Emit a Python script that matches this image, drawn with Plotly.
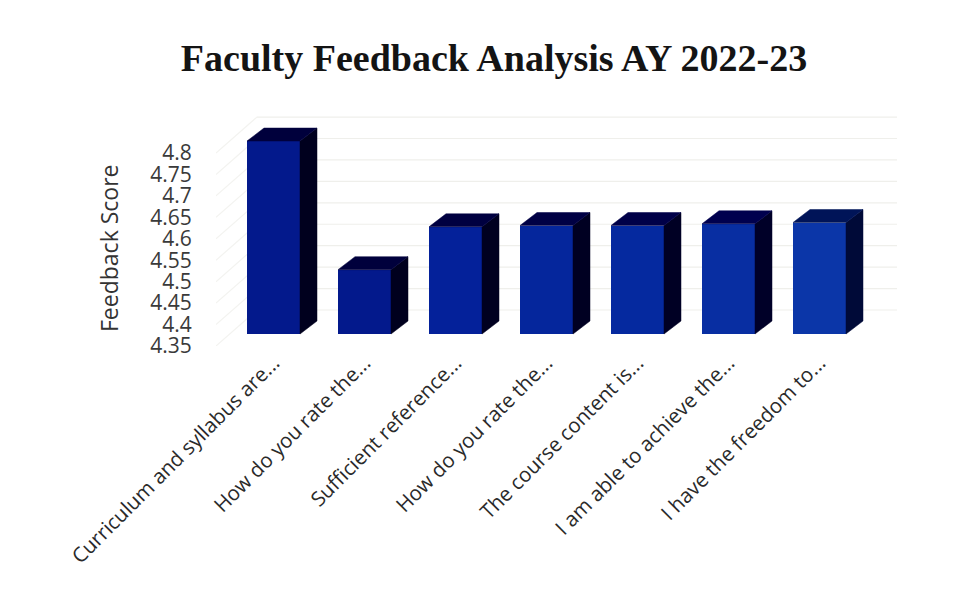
import plotly.graph_objects as go

title = "Faculty Feedback Analysis AY 2022-23"
y_title = "Feedback Score"
categories = ["Curriculum and syllabus are...", "How do you rate the...", "Sufficient reference...",
              "How do you rate the...", "The course content is...", "I am able to achieve the...",
              "I have the freedom to..."]
scores = [4.80, 4.50, 4.60, 4.603, 4.603, 4.607, 4.61]
y_ticks = [4.35, 4.4, 4.45, 4.5, 4.55, 4.6, 4.65, 4.7, 4.75, 4.8]
y_labels = ["4.35", "4.4", "4.45", "4.5", "4.55", "4.6", "4.65", "4.7", "4.75", "4.8"]
front_colors = ["#03198c", "#03198c", "#04219a", "#05269c", "#05299f", "#082ea2", "#0b36a8"]
top_colors = ["#00003c", "#00003c", "#000040", "#000044", "#000048", "#00004e", "#001458"]
side_colors = ["#00001e", "#00001e", "#000020", "#000022", "#000024", "#000028", "#000a38"]

PAGE = 8  # the browser's body margin
W, H = 960, 582
L, R, T, B = 216 - PAGE, 897 - PAGE, 100 - PAGE, 346 - PAGE
PX_PER_X = 91.0
PX_PER_Y = 21.44 / 0.05
X0 = (L - (273.5 - PAGE)) / PX_PER_X
X1 = X0 + (R - L) / PX_PER_X
Y0 = y_ticks[0]
Y1 = Y0 + (B - T) / PX_PER_Y

BAR_W = 53 / PX_PER_X
BAR_LIFT = 12 / PX_PER_Y          # bars stand a little behind the axis plane
DEPTH_X = 17 / PX_PER_X
DEPTH_Y = 13 / PX_PER_Y
WALL_X = 41 / PX_PER_X
WALL_Y = 36 / PX_PER_Y
idx = list(range(len(categories)))

fig = go.Figure()

# wall grid below the bars: diagonal side lines and back lines
for v in y_ticks:
    fig.add_shape(type="line", layer="below", x0=X0, y0=v, x1=X0 + WALL_X, y1=v + WALL_Y,
                  line=dict(color="#f3f3f0", width=1.2))
    fig.add_shape(type="line", layer="below", x0=X0 + WALL_X, y0=v + WALL_Y, x1=X1, y1=v + WALL_Y,
                  line=dict(color="#efefeb", width=1.2))

for i, v in zip(idx, scores):
    xl, xr = i - BAR_W / 2, i + BAR_W / 2
    base = Y0 + BAR_LIFT
    top = v + BAR_LIFT
    fig.add_trace(go.Scatter(
        x=[xr, xr + DEPTH_X, xr + DEPTH_X, xr, xr],
        y=[base, base + DEPTH_Y, top + DEPTH_Y, top, base],
        mode="lines", fill="toself", fillcolor=side_colors[i],
        line=dict(color=side_colors[i], width=0.5), hoverinfo="skip", showlegend=False))
    fig.add_trace(go.Scatter(
        x=[xl, xl + DEPTH_X, xr + DEPTH_X, xr, xl],
        y=[top, top + DEPTH_Y, top + DEPTH_Y, top, top],
        mode="lines", fill="toself", fillcolor=top_colors[i],
        line=dict(color=top_colors[i], width=0.5), hoverinfo="skip", showlegend=False))

fig.add_trace(go.Bar(
    x=idx, y=[v - Y0 for v in scores], base=Y0 + BAR_LIFT, width=BAR_W,
    marker=dict(color=front_colors, line=dict(width=0)), showlegend=False,
    customdata=scores, hovertemplate="%{customdata}<extra></extra>"))

fig.add_annotation(text=y_title, textangle=-90, showarrow=False,
                   xref="paper", yref="paper", xanchor="center", yanchor="middle",
                   x=(109 - PAGE - L) / (R - L), y=(B - (249 - PAGE)) / (B - T),
                   font=dict(size=23, color="#333333"))

fig.update_layout(
    width=W, height=H, autosize=False,
    margin=dict(l=L, r=W - R, t=T, b=H - B, autoexpand=False),
    paper_bgcolor="#ffffff", plot_bgcolor="rgba(0,0,0,0)",
    font=dict(family="Open Sans", color="#333333"),
    bargap=0,
    title=dict(text=f"<b>{title}</b>", x=(494 - PAGE) / W, xanchor="center", y=1 - (58 - PAGE) / H,
               yanchor="middle", font=dict(family="Liberation Serif", size=38, color="#141414")),
    xaxis=dict(range=[X0, X1], tickmode="array", tickvals=idx, ticktext=categories, tickangle=-45,
               showgrid=False, zeroline=False, showline=False, ticks="", ticklen=0,
               tickcolor="rgba(0,0,0,0)", tickfont=dict(size=20.5, color="#2a2a2a")),
    yaxis=dict(range=[Y0, Y1], tickmode="array", tickvals=y_ticks, ticktext=y_labels,
               showgrid=False, zeroline=False, showline=False, ticks="outside", ticklen=19,
               tickcolor="rgba(0,0,0,0)", tickfont=dict(size=21, color="#3a3a3a")),
)
fig.write_html("out.html", config=dict(displayModeBar=False))
